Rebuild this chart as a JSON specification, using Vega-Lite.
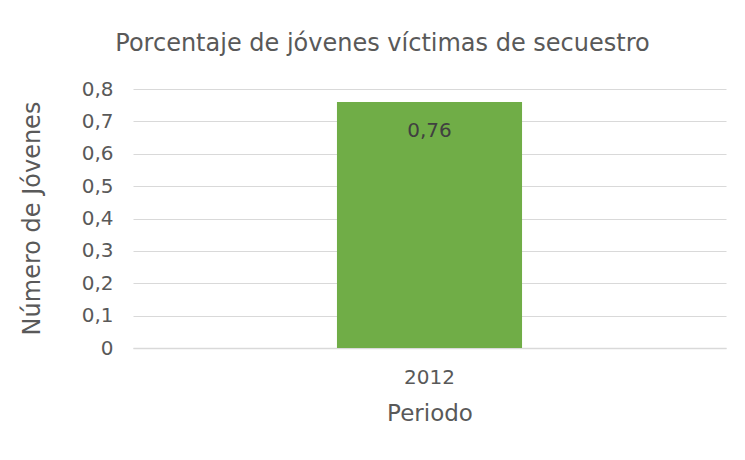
{
  "$schema": "https://vega.github.io/schema/vega-lite/v6.json",
  "width": 593,
  "height": 259,
  "autosize": {"type": "none"},
  "padding": {"left": 133, "top": 89, "right": 19, "bottom": 112},
  "background": "white",
  "config": {
    "font": "DejaVu Sans",
    "view": {"stroke": null},
    "title": {"font": "DejaVu Sans", "fontWeight": "normal"},
    "locale": {"number": {"decimal": ",", "thousands": ".", "grouping": [3], "currency": ["", " €"]}}
  },
  "title": {
    "text": "Porcentaje de jóvenes víctimas de secuestro",
    "fontSize": 24,
    "color": "#595959",
    "anchor": "middle",
    "offset": 23,
    "dx": -47
  },
  "data": {"values": [{"periodo": "2012", "valor": 0.76}]},
  "encoding": {
    "x": {
      "field": "periodo",
      "type": "nominal",
      "title": "Periodo",
      "scale": {"paddingInner": 0.5, "paddingOuter": 0.551},
      "axis": {
        "labelAngle": 0,
        "labelFontSize": 20,
        "labelColor": "#595959",
        "labelPadding": 19,
        "ticks": false,
        "domain": true,
        "domainColor": "#D9D9D9",
        "domainWidth": 1.5,
        "titleFontSize": 23,
        "titleFontWeight": "normal",
        "titleColor": "#595959",
        "titleBaseline": "alphabetic",
        "titleY": 72
      }
    },
    "y": {
      "field": "valor",
      "type": "quantitative",
      "title": "Número de Jóvenes",
      "scale": {"domain": [0, 0.8]},
      "axis": {
        "values": [0, 0.1, 0.2, 0.3, 0.4, 0.5, 0.6, 0.7, 0.8],
        "format": ".1~f",
        "labelFontSize": 20,
        "labelColor": "#595959",
        "labelPadding": 20,
        "ticks": false,
        "domain": false,
        "gridColor": "#D9D9D9",
        "gridWidth": 1.2,
        "titleFontSize": 24,
        "titleFontWeight": "normal",
        "titleColor": "#595959",
        "titleBaseline": "middle",
        "titleX": -101,
        "titleY": 129
      }
    }
  },
  "layer": [
    {"mark": {"type": "bar", "color": "#70AD47"}},
    {
      "mark": {"type": "text", "baseline": "middle", "dy": 29, "fontSize": 20, "color": "#404040"},
      "encoding": {
        "text": {"field": "valor", "type": "quantitative", "format": ".2f"}
      }
    }
  ]
}
